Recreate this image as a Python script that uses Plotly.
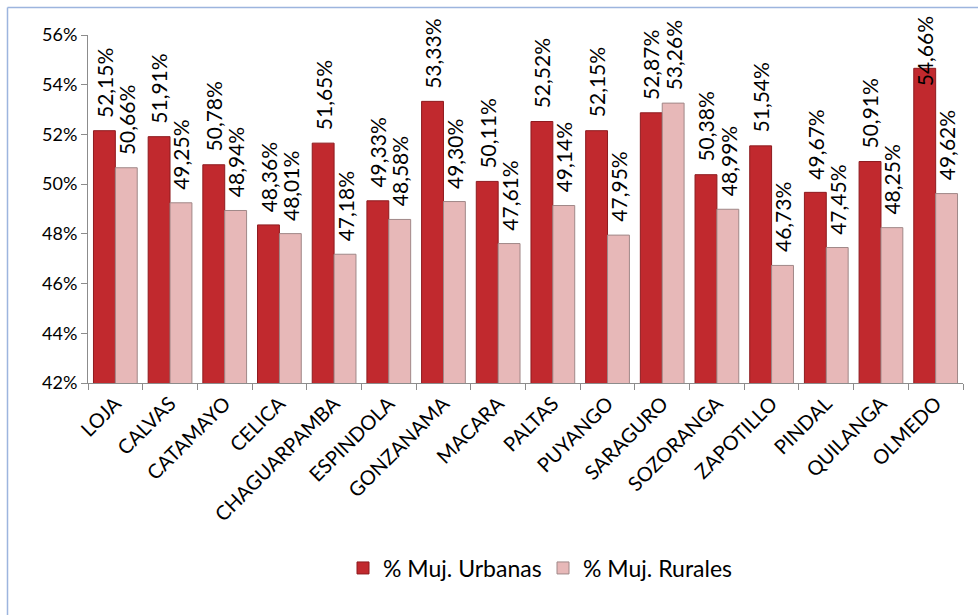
import plotly.graph_objects as go

cantones = ["LOJA", "CALVAS", "CATAMAYO", "CELICA", "CHAGUARPAMBA", "ESPINDOLA",
            "GONZANAMA", "MACARA", "PALTAS", "PUYANGO", "SARAGURO", "SOZORANGA",
            "ZAPOTILLO", "PINDAL", "QUILANGA", "OLMEDO"]
urbanas = [52.15, 51.91, 50.78, 48.36, 51.65, 49.33, 53.33, 50.11, 52.52, 52.15,
           52.87, 50.38, 51.54, 49.67, 50.91, 54.66]
rurales = [50.66, 49.25, 48.94, 48.01, 47.18, 48.58, 49.30, 47.61, 49.14, 47.95,
           53.26, 48.99, 46.73, 47.45, 48.25, 49.62]
y_ticks = [42, 44, 46, 48, 50, 52, 54, 56]


def fmt(v):
    return f"{v:.2f}".replace(".", ",") + "%"


FONT = "Lato, 'Open Sans', sans-serif"
LABEL_CAP = 53.4  # labels are kept inside the chart area (as Excel does)

fig = go.Figure()
fig.add_trace(go.Bar(
    x=cantones, y=urbanas, name="% Muj. Urbanas",
    marker=dict(color="#C1292E", line=dict(color="#8E1B1F", width=1)),
))
fig.add_trace(go.Bar(
    x=cantones, y=rurales, name="% Muj. Rurales",
    marker=dict(color="#E7B8B8", line=dict(color="#A08888", width=1)),
))

# data labels, rotated, above each bar
for series, shift in ((urbanas, -11), (rurales, 11)):
    for cat, v in zip(cantones, series):
        fig.add_annotation(
            x=cat, y=min(v, LABEL_CAP), xref="x", yref="y",
            text=fmt(v), showarrow=False, textangle=-90,
            xanchor="center", yanchor="bottom", xshift=shift, yshift=11,
            font=dict(size=21, color="black", family=FONT),
        )

L, R, T, B = 88, 15, 35, 232
W, H = 978, 615
pw = W - L - R
ph = H - T - B

fig.update_layout(
    width=W, height=H,
    margin=dict(l=L, r=R, t=T, b=B),
    paper_bgcolor="white", plot_bgcolor="white",
    barmode="group", bargap=0.2, bargroupgap=0.0,
    font=dict(family=FONT, size=20, color="black"),
    legend=dict(orientation="h", x=(543 - L) / pw, xanchor="center",
                y=(H - B - 568) / ph, yanchor="middle",
                font=dict(size=23, family=FONT), itemwidth=30,
                traceorder="normal", entrywidth=155),
    showlegend=True,
)
fig.update_yaxes(
    range=[42, 56], tickvals=y_ticks, ticktext=[f"{v}%" for v in y_ticks],
    showgrid=False, showline=True, linecolor="#8C8C8C", linewidth=1,
    ticks="outside", ticklen=6, tickcolor="#8C8C8C",
    tickfont=dict(size=18, family=FONT), zeroline=False,
)
fig.update_xaxes(
    showgrid=False, showline=True, linecolor="#8C8C8C", linewidth=1,
    ticks="outside", ticklen=6, tickcolor="#8C8C8C", tickson="boundaries",
    tickangle=-45, tickfont=dict(size=20, family=FONT),
)
# chart area frame (light blue): left and top edges
fx0 = (7.5 - L) / pw
fy1 = (H - B - 7.5) / ph
fig.add_shape(type="line", xref="paper", yref="paper",
              x0=fx0, x1=(W - L) / pw, y0=fy1, y1=fy1,
              line=dict(color="#9DB5DE", width=1.5), layer="above")
fig.add_shape(type="line", xref="paper", yref="paper",
              x0=fx0, x1=fx0, y0=(H - B - H) / ph, y1=fy1,
              line=dict(color="#9DB5DE", width=1.5), layer="above")

fig.write_html("out.html",
               config={"displayModeBar": False},
               post_script="document.body.style.margin='0';document.body.style.overflow='hidden';")
